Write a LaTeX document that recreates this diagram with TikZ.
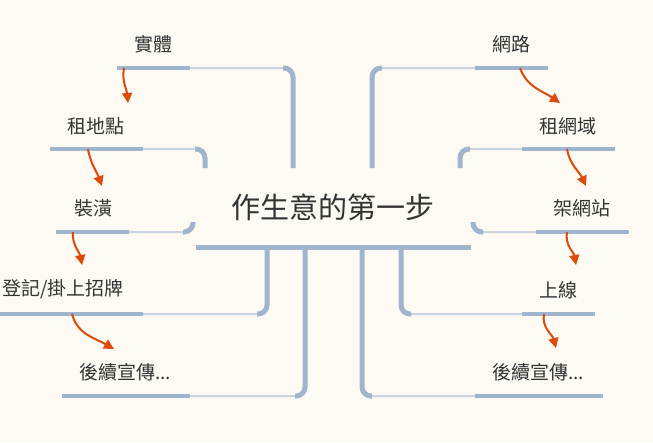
\documentclass[tikz,border=0pt]{standalone}
\usepackage{fontspec}
\setmainfont{Noto Sans CJK TC}
\usetikzlibrary{calc,positioning}
\usetikzlibrary{arrows.meta}
\definecolor{bgcream}{HTML}{FDFAF3}
\definecolor{bardark}{HTML}{9FB4CD}
\definecolor{barlight}{HTML}{C9D4E2}
\definecolor{flow}{HTML}{DC4A0C}
\tikzset{
  topic/.style={font=\fontsize{29}{34}\selectfont, text=black!80, inner sep=0pt},
  leaf/.style={font=\fontsize{19}{22}\selectfont, text=black!80, inner sep=0pt},
  underline/.style={bardark, line width=4pt},
  link/.style={barlight, line width=2pt, rounded corners=9pt},
  stem/.style={bardark, line width=5pt, rounded corners=9pt},
  flowarrow/.style={flow, line width=2pt, -{Triangle[length=10pt,width=10pt]}},
}

\begin{document}
\begin{tikzpicture}[x=1pt,y=-1pt]

		\fill[bgcream] (0,0) rectangle (653,442);
		\useasboundingbox (0,0) rectangle (653,442);

		% central topic
		\node[topic] (main) at (333,207) {作生意的第一步};
		\coordinate (bar-l) at (196,247);
		\coordinate (bar-r) at (471,247);
		\draw[bardark, line width=5pt] (bar-l) -- (bar-r);

		% left branch
		\node[leaf] (shiti) at (153,44) {實體};
		\node[leaf] (zudi) at (96,126) {租地點};
		\node[leaf] (zhuang) at (93,208) {裝潢};
		\node[leaf] (dengji) at (63,289) {登記/掛上招牌};
		\node[leaf] (houxuL) at (125,372) {後續宣傳...};

		\coordinate (shiti-l) at (117,68);   \coordinate (shiti-r) at (190,68);   \coordinate (shiti-s) at (293,168);
		\coordinate (zudi-l) at (50,149);    \coordinate (zudi-r) at (143,149);   \coordinate (zudi-s) at (205,168);
		\coordinate (zhuang-l) at (56,232);  \coordinate (zhuang-r) at (129,232); \coordinate (zhuang-s) at (193,222);
		\coordinate (dengji-l) at (-2,314);  \coordinate (dengji-r) at (143,314); \coordinate (dengji-s) at (267,247);
		\coordinate (houxuL-l) at (62,396);  \coordinate (houxuL-r) at (190,396); \coordinate (houxuL-s) at (305,247);

		\foreach \n in {shiti,zudi,zhuang,dengji,houxuL}{
			\draw[link] (\n-r) -| (\n-s);
			\draw[stem] ($(\n-s |- \n-r)+(-10,0)$) -| (\n-s);
			\draw[underline] (\n-l) -- (\n-r);
		}

		% right branch
		\node[leaf] (wanglu) at (511,44) {網路};
		\node[leaf] (zuwang) at (568,126) {租網域};
		\node[leaf] (jiawang) at (582,208) {架網站};
		\node[leaf] (shangxian) at (558,290) {上線};
		\node[leaf] (houxuR) at (538,372) {後續宣傳...};

		\coordinate (wanglu-l) at (475,68);    \coordinate (wanglu-r) at (548,68);    \coordinate (wanglu-s) at (372,168);
		\coordinate (zuwang-l) at (522,149);   \coordinate (zuwang-r) at (615,149);   \coordinate (zuwang-s) at (460,168);
		\coordinate (jiawang-l) at (536,232);  \coordinate (jiawang-r) at (629,232);  \coordinate (jiawang-s) at (473,222);
		\coordinate (shangxian-l) at (522,314);\coordinate (shangxian-r) at (595,314);\coordinate (shangxian-s) at (401,247);
		\coordinate (houxuR-l) at (475,396);   \coordinate (houxuR-r) at (603,396);   \coordinate (houxuR-s) at (362,247);

		\foreach \n in {wanglu,zuwang,jiawang,shangxian,houxuR}{
			\draw[link] (\n-l) -| (\n-s);
			\draw[stem] ($(\n-s |- \n-l)+(10,0)$) -| (\n-s);
			\draw[underline] (\n-l) -- (\n-r);
		}

		% order of steps
		\coordinate (a1) at (124,68);  \coordinate (b1) at (128,103);
		\coordinate (a2) at (88,149);  \coordinate (b2) at (102,186);
		\coordinate (a3) at (73,232);  \coordinate (b3) at (82,265);
		\coordinate (a4) at (72,314);  \coordinate (b4) at (114,349);
		\coordinate (c1) at (520,68);  \coordinate (d1) at (560,103);
		\coordinate (c2) at (567,149); \coordinate (d2) at (586,186);
		\coordinate (c3) at (567,232); \coordinate (d3) at (576,265);
		\coordinate (c4) at (544,314); \coordinate (d4) at (556,348);

		\draw[flowarrow] (a1) to[out=-100, in=95] (b1);
		\draw[flowarrow] (a2) to[out=-80, in=110] (b2);
		\draw[flowarrow] (a3) to[out=-95, in=100] (b3);
		\draw[flowarrow] (a4) to[out=-75, in=150] (b4);
		\draw[flowarrow] (c1) to[out=-70, in=145] (d1);
		\draw[flowarrow] (c2) to[out=-80, in=115] (d2);
		\draw[flowarrow] (c3) to[out=-100, in=100] (d3);
		\draw[flowarrow] (c4) to[out=-100, in=105] (d4);

	\end{tikzpicture}
\end{document}
